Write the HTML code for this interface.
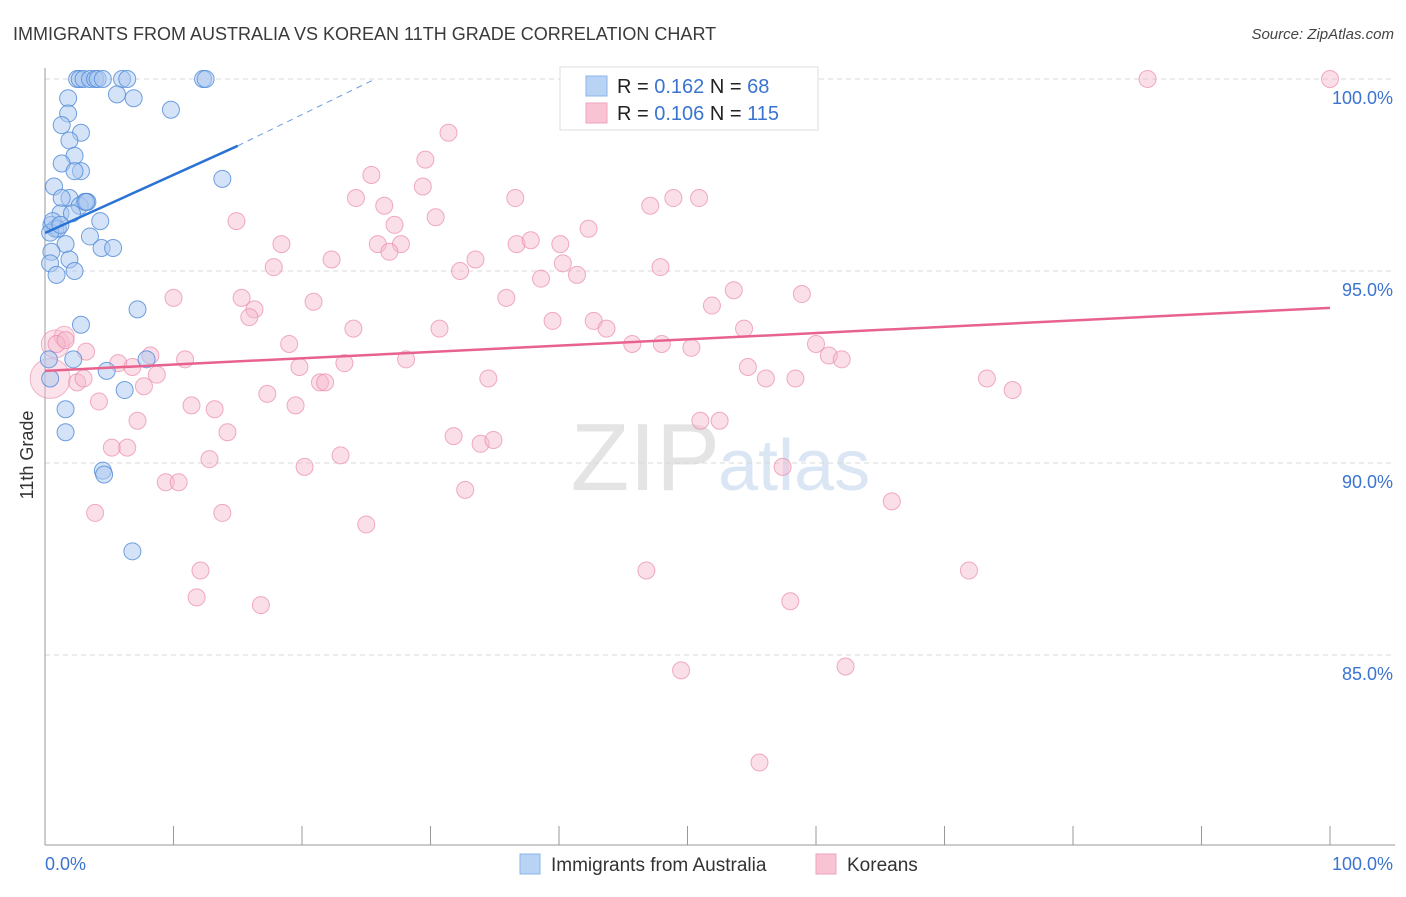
<!DOCTYPE html>
<html><head><meta charset="utf-8"><style>
body{margin:0;background:#fff;font-family:"Liberation Sans",sans-serif;}
svg text{font-family:"Liberation Sans",sans-serif;}
</style></head><body>
<svg id="chart" width="1406" height="892" xmlns="http://www.w3.org/2000/svg">
<text x="13" y="40" font-size="18" fill="#3a3a3a">IMMIGRANTS FROM AUSTRALIA VS KOREAN 11TH GRADE CORRELATION CHART</text>
<text x="1394" y="39" font-size="15" font-style="italic" fill="#444" text-anchor="end">Source: ZipAtlas.com</text>
<text x="720" y="490" font-size="96" fill="#e4e4e4" text-anchor="end" font-family="Liberation Serif">ZIP</text>
<text x="718" y="490" font-size="72" fill="#dbe6f5">atlas</text>
<g id="grid"></g>
<g id="axes"></g>
<g id="marks"></g>
<text transform="translate(33,455) rotate(-90)" font-size="18" fill="#333" text-anchor="middle">11th Grade</text>
<g>
<rect x="560" y="67" width="258" height="63" fill="#fff" stroke="#ddd"/>
<rect x="586" y="76" width="21" height="20" fill="#b9d3f5" stroke="#8db4e8"/>
<rect x="586" y="103" width="21" height="20" fill="#f8c3d2" stroke="#eea4bc"/>
<text x="617" y="93" font-size="20" fill="#222">R = <tspan fill="#3a74d0">0.162</tspan>   N = <tspan fill="#3a74d0"> 68</tspan></text>
<text x="617" y="120" font-size="20" fill="#222">R = <tspan fill="#3a74d0">0.106</tspan>   N = <tspan fill="#3a74d0">115</tspan></text>
</g>
<g>
<rect x="520" y="854" width="20" height="20" fill="#b9d3f5" stroke="#8db4e8"/>
<text x="551" y="871" font-size="19" fill="#333">Immigrants from Australia</text>
<rect x="816" y="854" width="20" height="20" fill="#f8c3d2" stroke="#eea4bc"/>
<text x="847" y="871" font-size="19" fill="#333">Koreans</text>
</g>
</svg>
<script>
const xTicks=[0,10,20,30,40,50,60,70,80,90,100];
const yTicks=[100,95,90,85];
const yTickLabels=["100.0%","95.0%","90.0%","85.0%"];
const xLabelsEnds=["0.0%","100.0%"];
const blueX=[2.5,2.7,3,3.5,3.9,4.1,4.5,6,6.4,12.3,12.5,1.8,5.6,6.9,9.8,1.8,1.3,2.8,1.9,2.3,1.3,2.8,2.3,13.8,0.7,1.9,1.3,3.1,2.7,3.3,1.2,2.1,0.5,4.3,0.8,1,0.4,3.5,1.6,4.4,5.3,0.5,1.9,0.4,2.3,0.9,7.2,2.8,0.3,2.2,7.9,4.8,0.4,6.2,1.6,1.6,4.5,4.6,6.8,0.6,1.2,3.2];
const blueY=[100,100,100,100,100,100,100,100,100,100,100,99.5,99.6,99.5,99.2,99.1,98.8,98.6,98.4,98,97.8,97.6,97.6,97.4,97.2,96.9,96.9,96.8,96.7,96.8,96.5,96.5,96.2,96.3,96.1,96.1,96,95.9,95.7,95.6,95.6,95.5,95.3,95.2,95,94.9,94,93.6,92.7,92.7,92.7,92.4,92.2,91.9,91.4,90.8,89.8,89.7,87.7,96.3,96.2,96.8];
const pinkX=[41,85.8,100,31.4,29.6,25.4,29.4,24.2,36.6,48.9,50.9,47.1,26.4,14.9,27.2,30.4,42.3,18.4,25.9,27.7,36.7,37.8,40.1,26.8,22.3,33.5,40.3,17.8,32.3,41.4,47.9,38.6,10,15.3,35.9,53.6,58.9,20.9,16.3,15.9,51.9,24,30.7,39.5,42.7,43.7,54.4,45.7,48,50.3,60,19,8.2,10.9,5.7,28.1,0.9,1.6,3.2,61,62,19.8,23.3,54.7,56.1,58.4,8.7,6.8,2.5,3,34.5,21.4,21.8,73.3,75.3,17.3,7.7,4.2,11.4,13.2,19.5,7.2,14.2,51,52.5,31.8,33.9,34.9,5.2,6.4,12.8,23,20.2,57.4,9.4,10.4,32.7,65.9,3.9,13.8,25,12.1,46.8,71.9,11.8,16.8,58,49.5,62.3,55.6];
const pinkY=[100,100,100,98.6,97.9,97.5,97.2,96.9,96.9,96.9,96.9,96.7,96.7,96.3,96.2,96.4,96.1,95.7,95.7,95.7,95.7,95.8,95.7,95.5,95.3,95.3,95.2,95.1,95,94.9,95.1,94.8,94.3,94.3,94.3,94.5,94.4,94.2,94,93.8,94.1,93.5,93.5,93.7,93.7,93.5,93.5,93.1,93.1,93,93.1,93.1,92.8,92.7,92.6,92.7,93.1,93.2,92.9,92.8,92.7,92.5,92.6,92.5,92.2,92.2,92.3,92.5,92.1,92.2,92.2,92.1,92.1,92.2,91.9,91.8,92,91.6,91.5,91.4,91.5,91.1,90.8,91.1,91.1,90.7,90.5,90.6,90.4,90.4,90.1,90.2,89.9,89.9,89.5,89.5,89.3,89,88.7,88.7,88.4,87.2,87.2,87.2,86.5,86.3,86.4,84.6,84.7,82.2];
const blueTrend=[0,95.99,15,98.26,25.7,100];
const pinkTrend=[0,92.4,100,94.04];
const X0=45,X1=1330,Y100=79,PX5=192;
function sx(v){return X0+(X1-X0)*v/100;}
function sy(v){return Y100+(100-v)*PX5/5;}
const NS="http://www.w3.org/2000/svg";
function mk(tag,attrs,parent){const e=document.createElementNS(NS,tag);for(const k in attrs)e.setAttribute(k,attrs[k]);parent.appendChild(e);return e;}
const grid=document.getElementById('grid'),axes=document.getElementById('axes'),marks=document.getElementById('marks');
yTicks.forEach((t,i)=>{
 const l=mk('line',{x1:X0,x2:1395,y1:sy(t),y2:sy(t),stroke:'#d8d8d8','stroke-dasharray':'5,4'},grid);
 
 
 const tx=mk('text',{x:1393,y:sy(t)+25,'font-size':18,fill:'#3a74d0','text-anchor':'end'},axes);
 tx.textContent=yTickLabels[i];
 
 
});
const ya=mk('line',{x1:X0,x2:X0,y1:68,y2:845,stroke:'#999'},axes);


const xa=mk('line',{x1:X0,x2:1395,y1:845,y2:845,stroke:'#999'},axes);


xTicks.forEach(t=>{
 const l=mk('line',{x1:sx(t),x2:sx(t),y1:826,y2:845,stroke:'#999'},axes);
 
 
});
[[0,'start',45],[100,'end',1393]].forEach((a,i)=>{
 const tx=mk('text',{x:a[2],y:870,'font-size':18,fill:'#3a74d0','text-anchor':a[1]},axes);
 tx.textContent=xLabelsEnds[i];
 
 
});
// big overlapping pink blobs near origin
[[0.4,92.2,20],[0.8,93.1,14],[1.5,93.3,10]].forEach(p=>{
 const c=mk('circle',{cx:sx(p[0]),cy:sy(p[1]),r:p[2],fill:'#f7b9cc','fill-opacity':0.4,stroke:'#e98aa9','stroke-opacity':0.6},marks);
 
 
});
pinkX.forEach((v,i)=>{
 const c=mk('circle',{cx:sx(v),cy:sy(pinkY[i]),r:8.5,fill:'#f7b9cc','fill-opacity':0.45,stroke:'#e98aa9','stroke-opacity':0.7},marks);
 
 
});
blueX.forEach((v,i)=>{
 const c=mk('circle',{cx:sx(v),cy:sy(blueY[i]),r:8.5,fill:'#a9c8f0','fill-opacity':0.5,stroke:'#4f8ad8','stroke-opacity':0.8},marks);
 
 
});
const bt=mk('line',{x1:sx(blueTrend[0]),y1:sy(blueTrend[1]),x2:sx(blueTrend[2]),y2:sy(blueTrend[3]),stroke:'#2a72d4','stroke-width':2.5},marks);


const bd=mk('line',{x1:sx(blueTrend[2]),y1:sy(blueTrend[3]),x2:sx(blueTrend[4]),y2:sy(blueTrend[5]),stroke:'#2a72d4','stroke-width':1,'stroke-dasharray':'6,5','stroke-opacity':0.7},marks);


const pt=mk('line',{x1:sx(pinkTrend[0]),y1:sy(pinkTrend[1]),x2:sx(pinkTrend[2]),y2:sy(pinkTrend[3]),stroke:'#e8628e','stroke-width':2.5},marks);


</script>
</body></html>
